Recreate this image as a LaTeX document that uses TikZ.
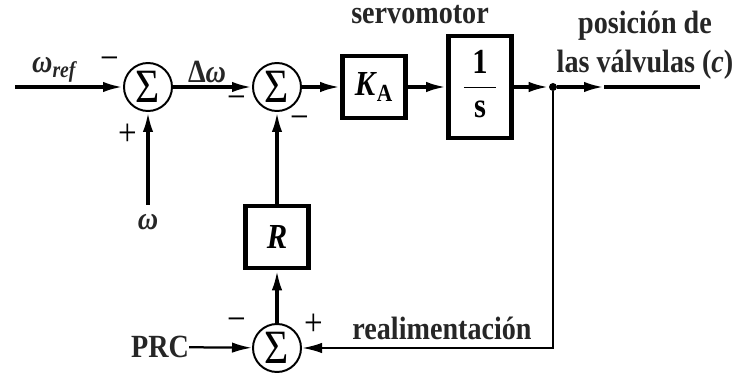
\documentclass[tikz,border=0pt]{standalone}
\usepackage{fontspec}
\setmainfont{Liberation Serif}[FakeStretch=0.87]
\usetikzlibrary{positioning,arrows.meta,calc}
\tikzset{
  sigarrow/.style={-{Latex[length=5mm,width=2.6mm]}, line width=2.3pt},
  fbarrow/.style={-{Latex[length=5mm,width=2.6mm]}, line width=1.6pt},
  sumnode/.style={draw, circle, line width=1.4pt, minimum size=1.2cm, inner sep=0pt, font=\fontsize{34}{34}\selectfont},
  blocknode/.style={draw, line width=3.2pt, minimum width=1.58cm, minimum height=1.55cm, inner sep=0pt, font=\fontsize{25}{26}\selectfont\bfseries},
  dotnode/.style={circle, fill, inner sep=0pt, minimum size=0.2cm},
  signlabel/.style={font=\fontsize{27}{27}\selectfont, inner sep=0pt},
  textlabel/.style={font=\fontsize{23}{28}\selectfont\bfseries, text=black!85, align=center, inner sep=0pt}
}

\begin{document}
\begin{tikzpicture}[x=0.025cm, y=0.025cm]
  \useasboundingbox (0,0) rectangle (735,375);
  % summing points
  \node[sumnode] (sum1) at (148,288) {Σ};
  \node[sumnode] (sum2) at (277,288) {Σ};
  \node[sumnode] (sum3) at (277,27) {Σ};
  % blocks
  \node[blocknode] (ka) at (374,288) {\textit{K}\textsubscript{A}};
  \node[blocknode, minimum height=2.55cm] (integ) at (480,288)
    {\renewcommand{\arraystretch}{1.2}\begin{tabular}{c}1\\\hline s\end{tabular}};
  \node[blocknode] (rblock) at (277,138) {\textit{R}};
  \node[dotnode] (branch) at (553,288) {};
  \coordinate (win) at (15,288);
  \coordinate (wbot) at (148,170);
  \coordinate (outmid) at (604,288);
  \coordinate (outend) at (700,288);
  % labels
  \node[textlabel] (wref) at (55,305) {\textit{ω}\textsubscript{\textit{ref}}};
  \node[textlabel] (wfb) at (148,153) {\textit{ω}};
  \node[textlabel] (dw) at (207,303) {Δ\textit{ω}};
  \node[textlabel] (prc) at (160,28) {PRC};
  \node[textlabel] (servo) at (420,360) {servomotor};
  \node[textlabel] (valv) at (645,330) {posición de\\las válvulas (\textit{c})};
  \node[textlabel] (realim) at (442,47) {realimentación};
  % signs
  \node[signlabel] (s1a) at (110,311) {−};
  \node[signlabel] (s1b) at (128,240) {+};
  \node[signlabel] (s2a) at (237,272) {−};
  \node[signlabel] (s2b) at (300,252) {−};
  \node[signlabel] (s3a) at (237,50) {−};
  \node[signlabel] (s3b) at (314,50) {+};
  % connections
  \draw[sigarrow] (win) -- (sum1);
  \draw[sigarrow] (wbot) -- (sum1);
  \draw[sigarrow] (sum1) -- (sum2);
  \draw[sigarrow] (sum2) -- (ka);
  \draw[sigarrow] (ka) -- (integ);
  \draw[sigarrow] (integ) -- (branch);
  \draw[sigarrow] (branch) -- (outmid);
  \draw[line width=2.3pt] (outmid) -- (outend);
  \draw[fbarrow] (branch) |- (sum3);
  \draw[fbarrow] (prc) -- (sum3);
  \draw[sigarrow] (sum3) -- (rblock);
  \draw[sigarrow] (rblock) -- (sum2);
\end{tikzpicture}
\end{document}
